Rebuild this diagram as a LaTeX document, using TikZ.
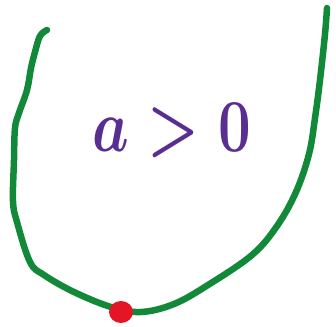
\documentclass[tikz,border=0pt]{standalone}
\definecolor{curvegreen}{RGB}{18,137,56}
\definecolor{dotred}{RGB}{228,22,38}
\definecolor{inkpurple}{RGB}{90,46,145}
\begin{document}
\begin{tikzpicture}[x=1pt,y=-1pt,
  curve/.style={draw=curvegreen,line width=6.5pt,line cap=round,line join=round},
  label/.style={text=inkpurple,font=\huge\boldmath,inner sep=0pt}]
\useasboundingbox (0,0) rectangle (336,326);
\draw[curve] plot[smooth,tension=0.6] coordinates {
  (47,30) (40,36) (35,52) (31,68) (27,90) (19,113) (15,128) (14,160) (13,201) (17,222)
  (30,262) (44,275) (74,292) (111,307) (141,312) (174,304) (208,285)
  (252,255) (277,226) (296,192) (309,154) (315,118) (320,80) (325,34) (327,8)};
\fill[dotred] (121,312) ellipse [x radius=12pt,y radius=11pt];
\node[label,xscale=2.8,yscale=3.6] (txt) at (172,131) {$a>0$};
\end{tikzpicture}
\end{document}
